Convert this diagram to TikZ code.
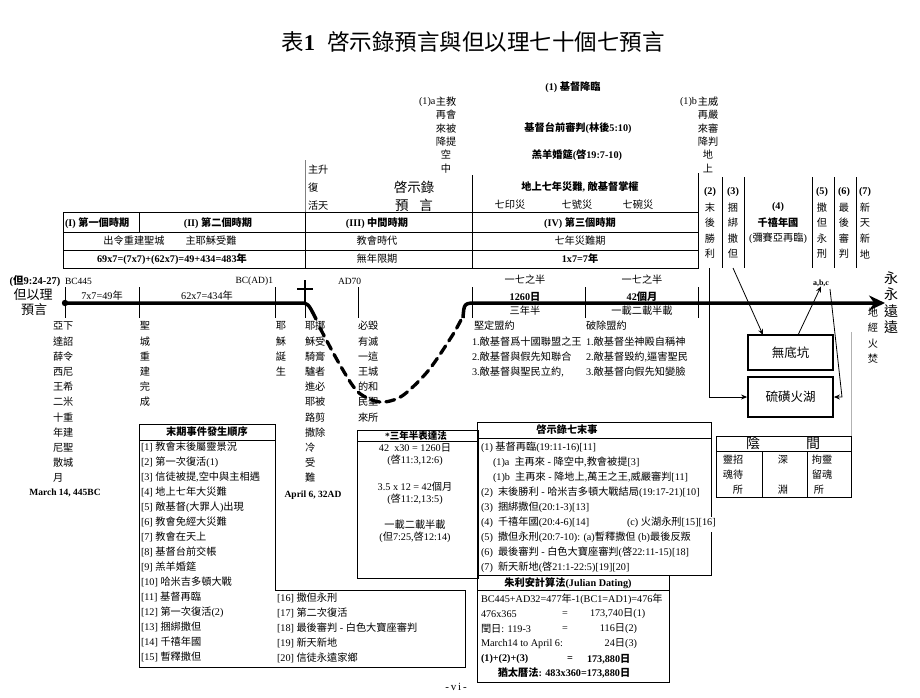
\documentclass[tikz,border=0pt]{standalone}
\usepackage{fontspec}
\setmainfont{Liberation Serif}
\newfontfamily\cjkfam{Noto Sans CJK TC}
\usetikzlibrary{arrows.meta,calc}
\XeTeXinterchartokenstate=1
\newcount\cjkc
\cjkc="2E80
\loop\XeTeXcharclass\cjkc=7 \ifnum\cjkc<"9FFF \advance\cjkc by 1 \repeat
\cjkc="FF00
\loop\XeTeXcharclass\cjkc=7 \ifnum\cjkc<"FFEF \advance\cjkc by 1 \repeat
\XeTeXinterchartoks 0 7 = {\cjkfam}
\XeTeXinterchartoks 4095 7 = {\cjkfam}
\XeTeXinterchartoks 7 0 = {\rmfamily}
\XeTeXinterchartoks 7 4095 = {\rmfamily}
\tikzset{
  T/.style={inner sep=0pt, outer sep=0pt, font=\fontsize{10.2}{12}\selectfont},
  TB/.style={inner sep=0pt, outer sep=0pt, font=\fontsize{10.2}{12}\selectfont\bfseries},
  ln/.style={line width=0.7pt},
  thk/.style={line width=1.8pt},
  arr/.style={line width=0.8pt, -{Stealth[length=6pt,width=5pt]}},
}
\newcommand\vcol[6]{%
  \foreach \s [count=\i] in {#6} {\node[T, anchor=#2] (#1\i) at (#3, {#4+(\i-1)*#5}) {\s};}}
\begin{document}
\begin{tikzpicture}[x=1pt,y=-1pt]
\useasboundingbox (0,0) rectangle (920,697);
\fill[white] (0,0) rectangle (920,697);

% title
\node[inner sep=0pt, font=\fontsize{22.5}{26}\selectfont] (title) at (473,42) {表\textbf{1}\hspace{12pt}啓示錄預言與但以理七十個七預言};

% top block
\node[TB] (advent) at (573,87) {(1)\ 基督降臨};
\node[TB] (bema) at (578,128) {基督台前審判(林後5:10)};
\node[TB] (feast) at (577,155) {羔羊婚筵(啓19:7-10)};
\node[T, anchor=east] (oneA) at (435.5,101.7) {(1)a};
\vcol{ca}{center}{446}{101.7}{13.3}{主教,再會,來被,降提,空,中}
\node[T, anchor=east] (oneB) at (697,101.7) {(1)b};
\vcol{cb}{center}{708}{101.7}{13.3}{主威,再嚴,來審,降判,地,上}

\node[T, anchor=west] (asc1) at (308,170) {主升};
\node[T, anchor=west] (asc2) at (308,188) {復};
\node[T, anchor=west] (asc3) at (308,206) {活天};
\node[inner sep=0pt, font=\fontsize{13.5}{16}\selectfont] (rev1) at (414,187) {啓示錄};
\node[inner sep=0pt, font=\fontsize{13.5}{16}\selectfont] (rev2) at (414,205) {預\hspace{11pt}言};

\node[TB] (trib) at (580,187) {地上七年災難, 敵基督掌權};
\node[T] (seal) at (510,205) {七印災};
\node[T] (trumpet) at (577,205) {七號災};
\node[T] (bowl) at (638,205) {七碗災};

% period table
\draw[ln] (63,212) rectangle (698,268);
\draw[ln] (63,232) -- (698,232) (63,250) -- (698,250);
\draw[ln] (139,212) -- (139,232);
\draw[ln] (305,212) -- (305,268);
\draw[line width=0.5pt, gray] (305,160) -- (305,212);
\draw[ln] (472,175) -- (472,268);
\draw[ln] (698,173) -- (698,268);
\foreach \xx in {722,744,812,834,856} {\draw[ln] (\xx,177) -- (\xx,268);}

\node[TB, anchor=west] (p1) at (65,223) {(I) 第一個時期};
\node[TB] (p2) at (218,223) {(II) 第二個時期};
\node[T] (p2a) at (134,241) {出令重建聖城};
\node[T] (p2b) at (211,241) {主耶穌受難};
\node[TB] (p2c) at (172,259) {69x7=(7x7)+(62x7)=49+434=483年};
\node[TB] (p3) at (377,223) {(III) 中間時期};
\node[T] (p3a) at (377,241) {教會時代};
\node[T] (p3b) at (377,259) {無年限期};
\node[TB] (p4) at (580,223) {(IV) 第三個時期};
\node[T] (p4a) at (580,241) {七年災難期};
\node[TB] (p4b) at (580,259) {1x7=7年};

\vcol{k2}{center}{710}{192}{15.5}{{\textbf{(2)}},末,後,勝,利}
\vcol{k3}{center}{733}{192}{15.5}{{\textbf{(3)}},捆,綁,撒,但}
\node[TB] (k4a) at (778,207.5) {(4)};
\node[TB] (k4b) at (778,223) {千禧年國};
\node[T] (k4c) at (778,238.5) {(彌賽亞再臨)};
\vcol{k5}{center}{822}{192}{15.5}{{\textbf{(5)}},撒,但,永,刑}
\vcol{k6}{center}{844}{192}{15.5}{{\textbf{(6)}},最,後,審,判}
\vcol{k7}{center}{865}{192}{15.5}{{\textbf{(7)}},新,天,新,地}

% timeline labels
\node[TB, font=\fontsize{10.5}{12}\selectfont\bfseries] (dan0) at (35,281) {(但9:24-27)};
\node[inner sep=0pt, font=\fontsize{13}{15}\selectfont] (dan1) at (33,295) {但以理};
\node[inner sep=0pt, font=\fontsize{13}{15}\selectfont] (dan2) at (34,310) {預言};
\node[T, anchor=west, font=\fontsize{9.5}{11}\selectfont] (bc445) at (65,281) {BC445};
\node[T, anchor=east, font=\fontsize{9.5}{11}\selectfont] (bcad) at (273,281) {BC(AD)1};
\node[T, anchor=west, font=\fontsize{9.5}{11}\selectfont] (ad70) at (338,281) {AD70};
\node[T] (w49) at (102,296) {7x7=49年};
\node[T] (w434) at (207,296) {62x7=434年};

\node[T] (half1) at (525,280) {一七之半};
\node[TB] (d1260) at (525,297) {1260日};
\node[T] (y35) at (525,311) {三年半};
\node[T] (half2) at (642,280) {一七之半};
\node[TB] (m42) at (642,297) {42個月};
\node[T] (tt) at (642,311) {一載二載半載};

\foreach \s/\yy [count=\i] in {永/278,永/294.5,遠/311,遠/327} {\node[inner sep=0pt, font=\fontsize{14}{16}\selectfont] (ev\i) at (891,\yy) {\s};}
\vcol{fire}{center}{873}{312}{15.7}{地,經,火,焚}

% ticks
\foreach \xx in {65,139,275,358,472,585,698} {\draw[ln] (\xx,287) -- (\xx,318);}
\draw[line width=2pt] (305,280) -- (305,303);
\draw[line width=2pt] (297,289) -- (313,289);
\draw[ln] (305,303) -- (305,318);

% timelines
\draw[line width=3.5pt, line cap=round] (65,303) -- (300,303) .. controls (308,303) .. (316,319);
\fill (65,303) circle (3.2pt);
\draw[line width=3.5pt, -{Stealth[length=16pt,width=15pt]}] (463,318) .. controls (464,303) .. (478,303) -- (885,303);
\draw[line width=3.3pt, dash pattern=on 9pt off 6pt, line cap=round] plot[smooth] coordinates {(320,328) (340,365) (358,392) (380,402) (402,396) (428,371) (452,336) (462,318)};

\node[TB, font=\fontsize{8}{9}\selectfont\bfseries] (abc) at (821,283) {a,b,c};

% vertical texts below the timeline
\vcol{ar}{west}{53}{326}{15.2}{亞下,達詔,薛令,西尼,王希,二米,十重,年建,尼聖,散城,月}
\vcol{hc}{center}{145}{326}{15.2}{聖,城,重,建,完,成}
\vcol{jb}{center}{281}{326}{15.2}{耶,穌,誕,生}
\vcol{jr}{west}{305}{326}{15.2}{耶挪,穌受,騎膏,驢者,進必,耶被,路剪,撒除,冷,受,難}
\vcol{dc}{west}{358}{326}{15.2}{必毀,有滅,一這,王城,的和,民聖,來所}
\node[TB, font=\fontsize{9.5}{11}\selectfont\bfseries] (mar) at (65,493) {March 14, 445BC};
\node[TB, font=\fontsize{9.5}{11}\selectfont\bfseries] (apr) at (313,495) {April 6, 32AD};

\node[T, anchor=west] (cov) at (474,326) {堅定盟約};
\node[T, anchor=west] (cov1) at (472,342) {1.敵基督爲十國聯盟之王};
\node[T, anchor=west] (cov2) at (472,357) {2.敵基督與假先知聯合};
\node[T, anchor=west] (cov3) at (472,372) {3.敵基督與聖民立約,};
\node[T, anchor=west] (brk) at (586,326) {破除盟約};
\node[T, anchor=west] (brk1) at (586,342) {1.敵基督坐神殿自稱神};
\node[T, anchor=west] (brk2) at (586,357) {2.敵基督毀約,逼害聖民};
\node[T, anchor=west] (brk3) at (586,372) {3.敵基督向假先知變臉};

% pit and lake
\node[thk, draw, minimum width=85pt, minimum height=35pt, inner sep=0pt, font=\fontsize{12.5}{14}\selectfont] (pit) at (790.5,352.5) {無底坑};
\node[thk, draw, minimum width=85pt, minimum height=40pt, inner sep=0pt, font=\fontsize{12.5}{14}\selectfont] (lake) at (790.5,397) {硫磺火湖};
\coordinate (c2b) at (709,268);
\coordinate (c3b) at (733,268);
\coordinate (pitin) at (763,335);
\coordinate (pitout) at (798,335);
\coordinate (abcr) at (830,289);
\coordinate (bend) at (842,397);
\draw[arr] (c2b) |- (lake.west);
\draw[arr] (c3b) -- (pitin);
\draw[arr] (pitout) -- (abc.south);
\draw[arr] (abcr) -- (bend) -- (lake.east);
\draw[line width=0.5pt, gray!60] (851,332) -- (851,436);

% box A
\draw[ln] (139,424) -- (275,424) -- (275,590) -- (465,590) -- (465,667) -- (139,667) -- cycle;
\draw[ln] (139,440) -- (275,440);
\node[TB] (hA) at (207,432) {末期事件發生順序};
\foreach \s [count=\i] in {{[1] 教會末後屬靈景況},{[2] 第一次復活(1)},{[3] 信徒被提,空中與主相遇},{[4] 地上七年大災難},{[5] 敵基督(大罪人)出現},{[6] 教會免經大災難},{[7] 教會在天上},{[8] 基督台前交帳},{[9] 羔羊婚筵},{[10] 哈米吉多頓大戰},{[11] 基督再臨},{[12] 第一次復活(2)},{[13] 捆綁撒但},{[14] 千禧年國},{[15] 暫釋撒但}}
  {\node[T, anchor=west] (ea\i) at (141,{447+(\i-1)*15}) {\s};}
\foreach \s [count=\i] in {{[16] 撒但永刑},{[17] 第二次復活},{[18] 最後審判 - 白色大寶座審判},{[19] 新天新地},{[20] 信徒永遠家鄉}}
  {\node[T, anchor=west] (eb\i) at (277,{598+(\i-1)*15}) {\s};}

% box B
\draw[ln] (357,430) rectangle (478,578);
\draw[ln] (357,441) -- (478,441);
\node[TB, font=\fontsize{9.5}{11}\selectfont\bfseries] (hB) at (416,435.5) {*三年半表達法};
\node[T] (b1) at (415,448) {42\ \ x30 = 1260日};
\node[T] (b2) at (415,460) {(啓11:3,12:6)};
\node[T] (b3) at (415,487) {3.5 x 12 = 42個月};
\node[T] (b4) at (415,499) {(啓11:2,13:5)};
\node[T] (b5) at (415,525) {一載二載半載};
\node[T] (b6) at (415,537) {(但7:25,啓12:14)};

% box C
\draw[ln] (711,517) -- (711,422) -- (477,422) -- (477,575) -- (711,575) -- (711,532);
\draw[ln] (477,438) -- (711,438);
\node[TB] (hC) at (567,430) {啓示錄七末事};
\node[T, anchor=west] (s1) at (481,447) {(1) 基督再臨(19:11-16)[11]};
\node[T, anchor=west] (s1a) at (493,462) {(1)a\ \ 主再來 - 降空中,教會被提[3]};
\node[T, anchor=west] (s1b) at (493,477) {(1)b\ \ 主再來 - 降地上,萬王之王,威嚴審判[11]};
\node[T, anchor=west] (s2) at (481,492) {(2)\ \ 末後勝利 - 哈米吉多頓大戰結局(19:17-21)[10]};
\node[T, anchor=west] (s3) at (481,507) {(3)\ \ 捆綁撒但(20:1-3)[13]};
\node[T, anchor=west] (s4) at (481,522) {(4)\ \ 千禧年國(20:4-6)[14]};
\node[T, anchor=west] (s4c) at (627,522) {(c) 火湖永刑[15][16]};
\node[T, anchor=west] (s5) at (481,537) {(5)\ \ 撒但永刑(20:7-10): (a)暫釋撒但 (b)最後反叛};
\node[T, anchor=west] (s6) at (481,552) {(6)\ \ 最後審判 - 白色大寶座審判(啓22:11-15)[18]};
\node[T, anchor=west] (s7) at (481,567) {(7)\ \ 新天新地(啓21:1-22:5)[19][20]};

% Julian box
\draw[ln] (477,575) rectangle (669,682);
\draw[ln] (477,590) -- (669,590);
\node[TB] (hJ) at (568,583) {朱利安計算法(Julian Dating)};
\node[T, anchor=west] (j1) at (481,599) {BC445+AD32=477年-1(BC1=AD1)=476年};
\node[T, anchor=west] (j2) at (481,614) {476x365};
\node[T] (j2e) at (565,614) {=};
\node[T, anchor=west] (j2r) at (590,614) {173,740日(1)};
\node[T, anchor=west] (j3) at (481,629) {閏日: 119-3};
\node[T] (j3e) at (565,629) {=};
\node[T, anchor=east] (j3r) at (637,629) {116日(2)};
\node[T, anchor=west] (j4) at (481,644) {March14 to April 6:};
\node[T, anchor=east] (j4r) at (637,644) {24日(3)};
\node[TB, anchor=west] (j5) at (481,659) {(1)+(2)+(3)};
\node[TB] (j5e) at (570,659) {=};
\node[TB, anchor=west] (j5r) at (587,659) {173,880日};
\node[TB] (j6) at (564,673) {猶太曆法: 483x360=173,880日};

% Hades box
\draw[ln] (716,436) rectangle (851,497);
\draw[ln] (716,451) -- (851,451);
\draw[ln] (762,451) -- (762,497) (807,451) -- (807,497);
\node[inner sep=0pt, font=\fontsize{14}{16}\selectfont] (hd1) at (753,443.5) {陰};
\node[inner sep=0pt, font=\fontsize{14}{16}\selectfont] (hd2) at (813,443.5) {間};
\node[T] (hl1) at (733,460) {靈招};
\node[T] (hl2) at (733,475) {魂待};
\node[T] (hl3) at (738,490) {所};
\node[T] (hm1) at (783,460) {深};
\node[T] (hm2) at (783,490) {淵};
\node[T] (hr1) at (822,460) {拘靈};
\node[T] (hr2) at (822,475) {留魂};
\node[T] (hr3) at (819,490) {所};

% footer
\node[T, font=\fontsize{11}{13}\selectfont] (foot) at (456,687) {-\,v\,i\,-};
\end{tikzpicture}
\end{document}
